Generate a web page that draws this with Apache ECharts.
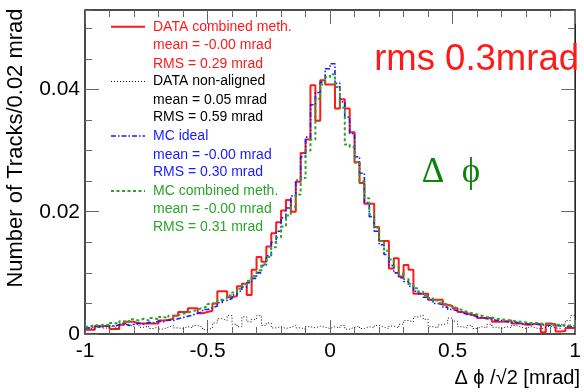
<!DOCTYPE html>
<html>
<head>
<meta charset="utf-8">
<script src="https://cdn.jsdelivr.net/npm/echarts@6/dist/echarts.min.js"></script>
<style>
html,body{margin:0;padding:0;background:#fff;}
#c{width:584px;height:392px;}
</style>
</head>
<body>
<div id="c"></div>
<script>
// Histogram binning (100 bins of 0.02 mrad from -1 to 1)
const binLow = -1;
const binWidth = 0.02;

// DATA combined meth. (red)
const dataCombined = [
0.0007,0.0007,0.0013,0.0013,0.0013,0.0008,0.0008,0.0015,0.0020,0.0020,
0.0017,0.0017,0.0017,0.0017,0.0017,0.0022,0.0023,0.0025,0.0030,0.0036,
0.0036,0.0042,0.0042,0.0034,0.0036,0.0038,0.0050,0.0070,0.0070,0.0060,
0.0062,0.0078,0.0082,0.0064,0.0105,0.0126,0.0118,0.0143,0.0165,0.0183,
0.0202,0.0219,0.0200,0.0249,0.0296,0.0318,0.0407,0.0349,0.0415,0.0408,
0.0408,0.0369,0.0384,0.0369,0.0330,0.0281,0.0247,0.0213,0.0213,0.0175,
0.0152,0.0152,0.0107,0.0124,0.0094,0.0113,0.0105,0.0066,0.0066,0.0066,
0.0056,0.0056,0.0056,0.0048,0.0046,0.0042,0.0036,0.0034,0.0031,0.0031,
0.0026,0.0026,0.0026,0.0020,0.0020,0.0021,0.0022,0.0017,0.0017,0.0015,
0.0015,0.0017,0.0016,0.0003,0.0017,0.0016,0.0004,0.0005,0.0010,0.0010];

// DATA non-aligned (black dotted)
const dataNonAligned = [
0.0010,0.0008,0.0012,0.0009,0.0011,0.0014,0.0010,0.0018,0.0015,0.0012,
0.0016,0.0011,0.0013,0.0009,0.0012,0.0008,0.0011,0.0014,0.0010,0.0009,
0.0012,0.0010,0.0014,0.0011,0.0007,0.0010,0.0018,0.0025,0.0022,0.0030,
0.0016,0.0012,0.0028,0.0020,0.0024,0.0030,0.0014,0.0018,0.0010,0.0012,
0.0009,0.0011,0.0014,0.0010,0.0008,0.0012,0.0010,0.0013,0.0011,0.0009,
0.0012,0.0010,0.0014,0.0008,0.0011,0.0013,0.0009,0.0012,0.0010,0.0014,
0.0011,0.0009,0.0013,0.0010,0.0016,0.0022,0.0020,0.0028,0.0031,0.0024,
0.0012,0.0010,0.0015,0.0018,0.0026,0.0021,0.0012,0.0010,0.0014,0.0009,
0.0012,0.0010,0.0016,0.0011,0.0009,0.0012,0.0010,0.0014,0.0011,0.0009,
0.0012,0.0010,0.0008,0.0011,0.0013,0.0010,0.0009,0.0016,0.0022,0.0030];

// MC ideal (blue dash-dot)
const mcIdeal = [
0.0010,0.0013,0.0011,0.0012,0.0014,0.0013,0.0015,0.0017,0.0014,0.0016,
0.0018,0.0016,0.0019,0.0018,0.0021,0.0020,0.0023,0.0022,0.0025,0.0027,
0.0029,0.0031,0.0034,0.0036,0.0040,0.0043,0.0046,0.0051,0.0055,0.0058,
0.0064,0.0070,0.0077,0.0084,0.0091,0.0100,0.0112,0.0128,0.0150,0.0168,
0.0190,0.0206,0.0226,0.0252,0.0290,0.0322,0.0375,0.0395,0.0412,0.0434,
0.0442,0.0410,0.0380,0.0355,0.0328,0.0290,0.0263,0.0215,0.0192,0.0168,
0.0146,0.0130,0.0112,0.0100,0.0092,0.0086,0.0078,0.0070,0.0066,0.0060,
0.0056,0.0050,0.0048,0.0044,0.0040,0.0038,0.0035,0.0032,0.0031,0.0028,
0.0027,0.0025,0.0024,0.0022,0.0022,0.0020,0.0019,0.0019,0.0017,0.0017,
0.0016,0.0016,0.0015,0.0015,0.0014,0.0014,0.0013,0.0013,0.0012,0.0012];

// MC combined meth. (green dashed)
const mcCombined = [
0.0012,0.0015,0.0013,0.0016,0.0014,0.0018,0.0017,0.0021,0.0019,0.0024,
0.0022,0.0025,0.0022,0.0026,0.0024,0.0028,0.0026,0.0030,0.0031,0.0033,
0.0035,0.0037,0.0040,0.0043,0.0045,0.0049,0.0052,0.0056,0.0059,0.0063,
0.0068,0.0074,0.0080,0.0087,0.0095,0.0104,0.0114,0.0126,0.0142,0.0158,
0.0176,0.0194,0.0208,0.0228,0.0255,0.0300,0.0318,0.0385,0.0408,0.0420,
0.0425,0.0404,0.0370,0.0310,0.0306,0.0280,0.0250,0.0222,0.0196,0.0174,
0.0152,0.0136,0.0122,0.0110,0.0099,0.0090,0.0082,0.0075,0.0069,0.0063,
0.0059,0.0055,0.0051,0.0048,0.0045,0.0042,0.0039,0.0036,0.0034,0.0032,
0.0030,0.0028,0.0027,0.0025,0.0024,0.0023,0.0022,0.0021,0.0020,0.0019,
0.0018,0.0018,0.0017,0.0016,0.0016,0.0015,0.0015,0.0014,0.0014,0.0013];

// Tick labels
const xTickValues = [-1, -0.5, 0, 0.5, 1];
const xTickLabels = ['-1', '-0.5', '0', '0.5', '1'];
const yTickValues = [0, 0.02, 0.04];
const yTickLabels = ['0', '0.02', '0.04'];

// Legend / annotation text
const legendNames = ['DATA combined meth.', 'DATA non-aligned', 'MC ideal', 'MC combined meth.'];
const legendMeans = ['mean = -0.00 mrad', 'mean = 0.05 mrad', 'mean = -0.00 mrad', 'mean = -0.00 mrad'];
const legendRMS = ['RMS = 0.29 mrad', 'RMS = 0.59 mrad', 'RMS = 0.30 mrad', 'RMS = 0.31 mrad'];
const yTitle = 'Number of Tracks/0.02 mrad';
const xTitle = 'Δ ϕ /√2 [mrad]';
const rmsNote = 'rms 0.3mrad';
const deltaPhi = 'Δ  ϕ';

function hist(vals) {
  const pts = vals.map((v, i) => [binLow + i * binWidth, v]);
  pts.push([binLow + vals.length * binWidth, vals[vals.length - 1]]);
  return pts;
}
function lbl(values, labels) {
  return v => { for (let i = 0; i < values.length; i++) if (Math.abs(v - values[i]) < 1e-9) return labels[i]; return ''; };
}

const FONT = '"Liberation Sans", Arial, Helvetica, sans-serif';
const colors = ['#ff1a1a', '#111111', '#1a1aff', '#2aa52a'];
const textColors = ['#ff1a1a', '#000000', '#1a1aff', '#2aa52a'];
const dashes = [null, [1, 2], [5, 2, 1.5, 2], [3, 2.5]];
const widths = [2, 1, 1.6, 2];

const chart = echarts.init(document.getElementById('c'), null, {renderer: 'canvas'});

const yMax = 0.053;
const tickColor = '#666';
function xAx(pos, showLabel) {
  return {
    type: 'value', position: pos, min: -1, max: 1, interval: 0.5,
    axisLine: {show: false, onZero: false},
    axisTick: {show: true, inside: true, length: 14, lineStyle: {color: tickColor, width: 1}},
    minorTick: {show: true, splitNumber: 5, length: 7, lineStyle: {color: tickColor, width: 1}},
    splitLine: {show: false}, minorSplitLine: {show: false},
    axisLabel: {show: showLabel, margin: 7, fontSize: 21, color: '#000', fontFamily: FONT,
      formatter: lbl(xTickValues, xTickLabels)}
  };
}
function yAx(pos, interval, len, showLabel) {
  return {
    type: 'value', position: pos, min: 0, max: yMax, interval: interval,
    axisLine: {show: false, onZero: false},
    axisTick: {show: true, inside: true, length: len, lineStyle: {color: tickColor, width: 1}},
    splitLine: {show: false},
    axisLabel: {show: showLabel, margin: 5, fontSize: 21, color: '#000', fontFamily: FONT,
      showMaxLabel: false, formatter: lbl(yTickValues, yTickLabels)}
  };
}

const seriesData = [dataCombined, dataNonAligned, mcIdeal, mcCombined];
const series = [0, 1, 2, 3].map(k => ({
  type: 'line', name: legendNames[k], step: 'end', data: hist(seriesData[k]),
  xAxisIndex: 0, yAxisIndex: 0, symbol: 'none', showSymbol: false, clip: true,
  lineStyle: Object.assign({color: colors[k], width: widths[k]}, dashes[k] ? {type: dashes[k]} : {}),
  z: 2 + k, animation: false
}));

const rowY = [26.7, 45.3, 63.7, 81.5, 100, 117.5, 136, 155, 172.5, 191, 209, 227.3];
const graphics = [];
for (let k = 0; k < 4; k++) {
  const y0 = rowY[k * 3];
  graphics.push({
    type: 'line', shape: {x1: 111, y1: y0, x2: 145, y2: y0},
    style: Object.assign({stroke: colors[k], lineWidth: widths[k]}, dashes[k] ? {lineDash: dashes[k]} : {}),
    z: 100
  });
  [legendNames[k], legendMeans[k], legendRMS[k]].forEach((t, j) => {
    graphics.push({
      type: 'text', x: 153, y: rowY[k * 3 + j], z: 100,
      style: {text: t, fill: textColors[k], font: '14px ' + FONT, align: 'left', verticalAlign: 'middle'}
    });
  });
}
graphics.push({type: 'text', x: 579, y: 60, z: 100,
  style: {text: rmsNote, fill: '#ff1a1a', font: '36.5px ' + FONT, align: 'right', verticalAlign: 'middle'}});
graphics.push({type: 'text', x: 451, y: 173, z: 100,
  style: {text: deltaPhi, fill: '#0a850a', font: '35px "Liberation Serif", "Times New Roman", serif', align: 'center', verticalAlign: 'middle'}});
graphics.push({type: 'text', x: 16, y: 148, rotation: Math.PI / 2, z: 100,
  style: {text: yTitle, fill: '#000', font: '22px ' + FONT, align: 'center', verticalAlign: 'middle'}});
graphics.push({type: 'text', x: 580, y: 378, z: 100,
  style: {text: xTitle, fill: '#000', font: '20px ' + FONT, align: 'right', verticalAlign: 'middle'}});

chart.setOption({
  animation: false,
  backgroundColor: '#fff',
  grid: {left: 85, top: 10, right: 5, bottom: 58, show: true, borderColor: '#111', borderWidth: 1.5, backgroundColor: 'transparent'},
  xAxis: [xAx('bottom', true), xAx('top', false)],
  yAxis: [yAx('left', 0.02, 14, true), yAx('left', 0.005, 7, false), yAx('right', 0.02, 14, false), yAx('right', 0.005, 7, false)],
  series: series,
  graphic: graphics
});
</script>
</body>
</html>
